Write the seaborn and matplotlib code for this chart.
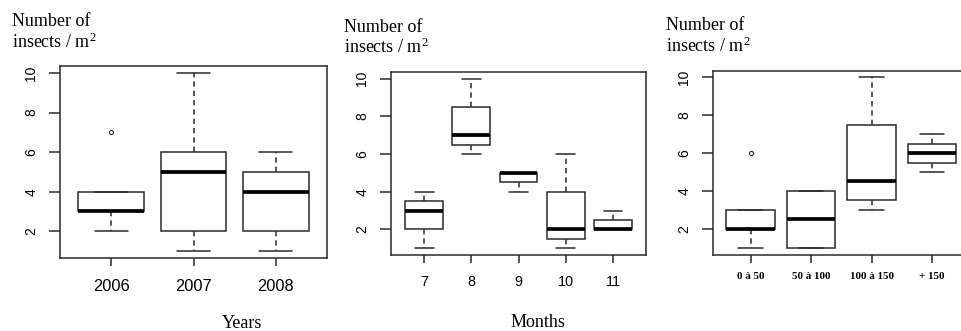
import matplotlib
matplotlib.use("Agg")
import matplotlib.pyplot as plt
import seaborn as sns
import pandas as pd

# ---- data ----
years = ["2006", "2007", "2008"]
y2006 = [2, 3, 3, 3, 4, 4, 7]
y2007 = [1, 2, 2, 5, 6, 6, 10]
y2008 = [1, 2, 2, 4, 5, 5, 6]

months = ["7", "8", "9", "10", "11"]
m7 = [1, 2, 3, 3.5, 4]
m8 = [6, 6.5, 7, 8.5, 10]
m9 = [4, 4.5, 5, 5, 5]
m10 = [1, 1.5, 2, 4, 6]
m11 = [2, 2, 2, 2.5, 3]

classes = ["0 à 50", "50 à 100", "100 à 150", "+ 150"]
c1 = [1, 2, 2, 3, 6]
c2 = [1, 1, 2.5, 4, 4]
c3 = [3, 3.5, 4.5, 7.5, 10]
c4 = [5, 5.5, 6, 6.5, 7]

yticks = [2, 4, 6, 8, 10]
ylabel_l1 = "Number of"
ylabel_l2 = "insects / m$^{\\mathrm{2}}$"


def long_df(cats, groups):
    rows = []
    for c, vals in zip(cats, groups):
        for v in vals:
            rows.append({"grp": c, "val": v})
    return pd.DataFrame(rows)


sns.set_style("ticks")
plt.rcParams["font.family"] = ["Liberation Sans", "DejaVu Sans"]
plt.rcParams["mathtext.fontset"] = "custom"
plt.rcParams["mathtext.rm"] = "Liberation Serif"
plt.rcParams["mathtext.it"] = "Liberation Serif:italic"

W, H = 961, 331
fig = plt.figure(figsize=(W / 100, H / 100), dpi=100)
fig.patch.set_facecolor("white")

LC = "#2a2a2a"


def px_rect(left, top, right, bottom):
    return [left / W, 1 - bottom / H, (right - left) / W, (bottom - top) / H]


def draw(ax, cats, groups, xlim, xfs, xfont, xweight, xpad):
    df = long_df(cats, groups)
    sns.boxplot(
        data=df, x="grp", y="val", order=cats, ax=ax,
        color="white", linecolor=LC, linewidth=1.1, width=0.8, whis=1.5,
        fliersize=3,
        medianprops=dict(color="black", linewidth=2.7, solid_capstyle="butt"),
        whiskerprops=dict(color="#3a3a3a", linewidth=1.2, linestyle=(0, (3.2, 2.4))),
        capprops=dict(color=LC, linewidth=1.1),
        boxprops=dict(edgecolor=LC, linewidth=1.1),
        flierprops=dict(marker="o", markerfacecolor="none",
                        markeredgecolor=LC, markeredgewidth=0.8, markersize=3),
    )
    ax.set_xlim(*xlim)
    ax.set_ylim(0.64, 10.36)
    ax.set_yticks(yticks)
    ax.set_yticklabels([str(t) for t in yticks])
    ax.set_xlabel("")
    ax.set_ylabel("")
    for s in ax.spines.values():
        s.set_visible(True)
        s.set_color(LC)
        s.set_linewidth(1.1)
    ax.tick_params(axis="y", length=7.6, width=1.1, color=LC, pad=8.0,
                   labelsize=10, labelrotation=90, labelcolor="black")
    ax.tick_params(axis="x", length=5.8, width=1.1, color=LC, pad=xpad,
                   labelcolor="black")
    for lbl in ax.get_yticklabels():
        lbl.set_va("center")
    for lbl in ax.get_xticklabels():
        lbl.set_fontsize(xfs)
        lbl.set_family(xfont)
        lbl.set_fontweight(xweight)
    ax.set_facecolor("white")


ax1 = fig.add_axes(px_rect(60, 66, 327, 258))
draw(ax1, years, [y2006, y2007, y2008], (-0.62, 2.62), 11.8,
     ["Liberation Sans"], "normal", 9.6)

ax2 = fig.add_axes(px_rect(391, 72, 646, 255))
draw(ax2, months, [m7, m8, m9, m10, m11], (-0.7, 4.7), 10.4,
     ["Liberation Sans"], "normal", 8.8)

ax3 = fig.add_axes(px_rect(713, 70.5, 969.6, 254.5))
draw(ax3, classes, [c1, c2, c3, c4], (-0.62, 3.62), 8.0,
     ["Liberation Serif"], "bold", 7.0)

serif = ["Liberation Serif", "DejaVu Serif"]


def ftext(x, y, s, **kw):
    fig.text(x / W, 1 - y / H, s, family=serif, fontsize=13, color="black", **kw)


# y-axis titles (horizontal, above the plots)
for (x, b1, b2) in [(12, 25.5, 47.5), (344, 31.5, 53.3), (666, 30, 52.3)]:
    ftext(x, b1, ylabel_l1, ha="left", va="baseline")
    ftext(x, b2, ylabel_l2, ha="left", va="baseline")

# x-axis titles
ftext(241.7, 327.5, "Years", ha="center", va="baseline")
ftext(537.5, 327, "Months", ha="center", va="baseline")

fig.savefig("out.png", dpi=100, facecolor="white")
